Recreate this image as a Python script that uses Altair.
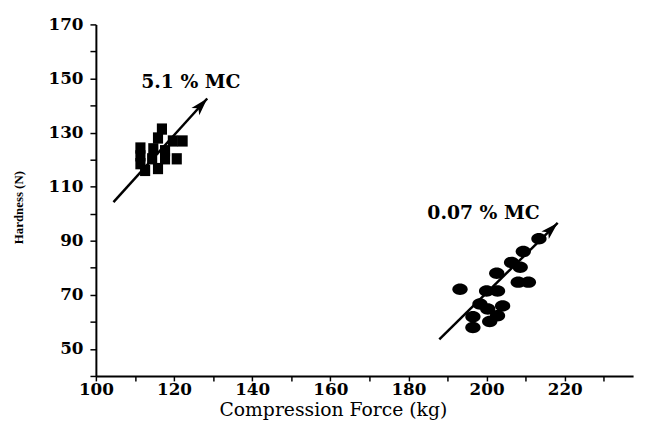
import math
import altair as alt
import pandas as pd

# --- data ---------------------------------------------------------------
mc51_force = [116.9, 115.9, 119.7, 122.2, 111.4, 111.4, 111.4, 114.7, 117.7,
              114.4, 117.7, 120.7, 115.9, 112.6]
mc51_hard = [131.3, 128.0, 126.9, 126.9, 124.3, 121.4, 118.5, 124.0, 123.3,
             120.3, 120.3, 120.3, 116.7, 116.0]

mc007_force = [193.2, 200.0, 202.8, 202.6, 206.4, 208.6, 209.4, 213.4, 208.1,
               210.7, 198.3, 204.1, 196.5, 202.8, 200.8, 196.5, 200.3]
mc007_hard = [72.1, 71.4, 71.4, 78.0, 82.0, 80.2, 86.0, 90.7, 74.7,
              74.7, 66.6, 65.9, 61.9, 62.3, 60.1, 57.9, 64.8]

arrow_group = ["5.1 % MC", "5.1 % MC", "0.07 % MC", "0.07 % MC"]
arrow_order = [0, 1, 0, 1]
arrow_force = [104.5, 128.5, 187.9, 218.2]
arrow_hard = [104.3, 142.6, 53.5, 96.6]

label_text = ["5.1 % MC", "0.07 % MC"]
label_force = [124.3, 199.2]
label_hard = [148.8, 100.2]

x_ticks = list(range(100, 240, 10))
y_ticks = list(range(40, 180, 10))

# --- layout ---------------------------------------------------------------
W, H = 544, 356
X_DOMAIN = [100, 237.5]
Y_DOMAIN = [40, 170]
SERIF = "DejaVu Serif"

sq = pd.DataFrame({"force": mc51_force, "hard": mc51_hard})
ci = pd.DataFrame({"force": mc007_force, "hard": mc007_hard})
ar = pd.DataFrame({"group": arrow_group, "order": arrow_order,
                   "force": arrow_force, "hard": arrow_hard})
lb = pd.DataFrame({"text": label_text, "force": label_force, "hard": label_hard})

# arrow heads at the end of each arrow, rotated along the arrow in pixel space
sx = W / (X_DOMAIN[1] - X_DOMAIN[0])
sy = H / (Y_DOMAIN[1] - Y_DOMAIN[0])
heads = []
for g in label_text:
    pts = ar[ar.group == g].sort_values("order")
    (f0, h0), (f1, h1) = pts[["force", "hard"]].values
    ang = math.degrees(math.atan2((f1 - f0) * sx, (h1 - h0) * sy))
    heads.append({"group": g, "force": f1, "hard": h1, "angle": ang % 360})
hd = pd.DataFrame(heads)

x_scale = alt.Scale(domain=X_DOMAIN, nice=False, zero=False)
y_scale = alt.Scale(domain=Y_DOMAIN, nice=False, zero=False)

x_axis = alt.Axis(
    title="Compression Force (kg)", values=x_ticks, format="d",
    labelExpr="datum.value % 20 == 0 ? datum.label : ''",
    labelFont=SERIF, labelFontWeight="bold", labelFontSize=17, labelColor="black",
    labelPadding=1, tickSize=5, labelFlush=False,
    titleFont=SERIF, titleFontWeight="normal", titleFontSize=19, titleColor="black",
    titleX=240, titleY=34, titleBaseline="middle", titleAlign="center",
)
y_axis = alt.Axis(
    title="Hardness (N)", values=y_ticks, format="d",
    labelExpr="datum.value % 20 == 10 ? datum.label : ''",
    labelFont=SERIF, labelFontWeight="bold", labelFontSize=17, labelColor="black",
    labelPadding=7, tickSize=6, labelFlush=False,
    titleFont="Liberation Serif", titleFontWeight="bold", titleFontSize=13,
    titleColor="black", titleX=-78, titleY=185, titleAngle=270,
    titleBaseline="middle", titleAlign="center",
)


def xe():
    return alt.X("force:Q", scale=x_scale, axis=x_axis)


def ye():
    return alt.Y("hard:Q", scale=y_scale, axis=y_axis)


squares = alt.Chart(sq).mark_point(
    shape="M-0.9,-1H0.9V1H-0.9Z", filled=True, size=130, color="black", opacity=1
).encode(x=xe(), y=ye())

circles = alt.Chart(ci).mark_point(
    shape="M-1,0A1,0.75 0 1,0 1,0A1,0.75 0 1,0 -1,0Z", filled=True, size=240,
    color="black", opacity=1
).encode(x=xe(), y=ye())

lines = alt.Chart(ar).mark_line(color="black", strokeWidth=2.5).encode(
    x=xe(), y=ye(), detail="group:N", order="order:Q"
)

arrowheads = alt.Chart(hd).mark_point(
    shape="M0,0L0.6,2L0,1.5L-0.6,2Z", filled=True, size=320,
    color="black", opacity=1
).encode(x=xe(), y=ye(), angle=alt.Angle("angle:Q", scale=None))

labels = alt.Chart(lb).mark_text(
    font=SERIF, fontWeight="bold", fontSize=19, color="black",
    align="center", baseline="middle"
).encode(x=xe(), y=ye(), text="text:N")

chart = alt.layer(squares, circles, lines, arrowheads, labels).properties(
    width=W, height=H,
    padding={"left": 89, "top": 14, "right": 7, "bottom": 44},
    autosize=alt.AutoSizeParams(type="none"),
).configure_view(stroke=None).configure_axis(
    grid=False, domainColor="black", domainWidth=2,
    tickColor="black", tickWidth=1.5,
)

chart.save("out.html", embed_options={"renderer": "svg", "actions": False})
